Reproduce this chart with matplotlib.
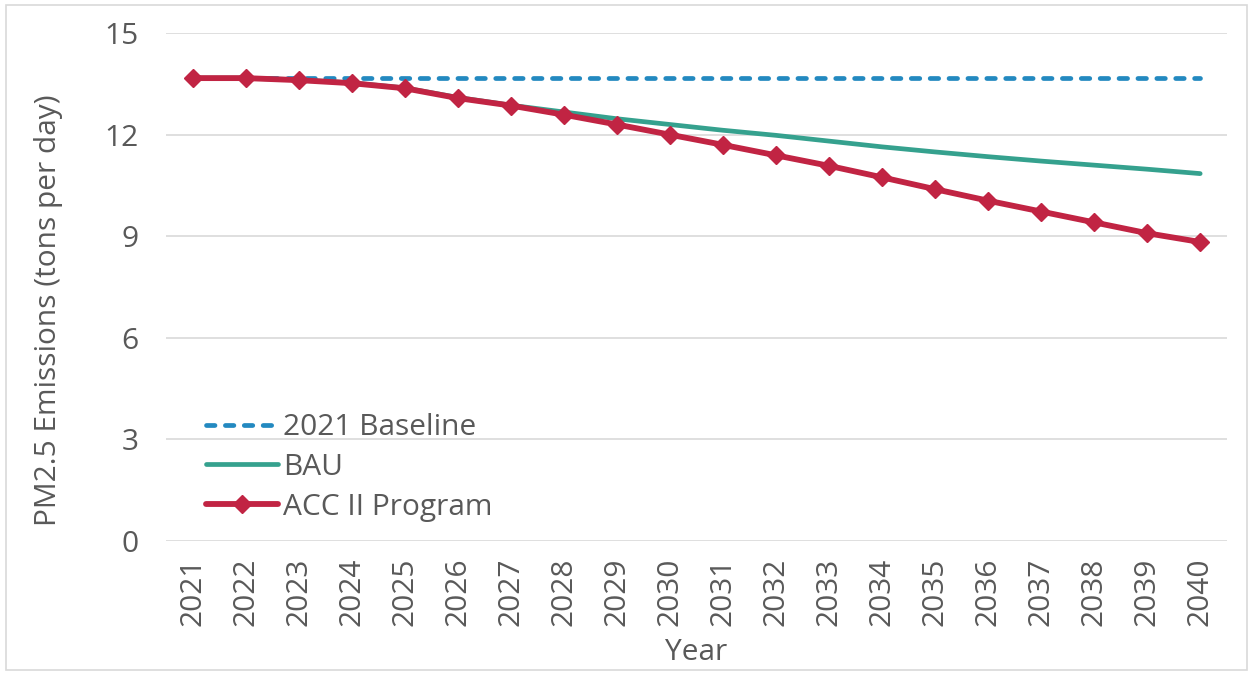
import matplotlib
matplotlib.use('Agg')
import matplotlib.pyplot as plt
from matplotlib.patches import Rectangle

# --- Data ---
years = [str(y) for y in range(2021, 2041)]
baseline = [13.67] * 20
bau = [13.67, 13.67, 13.62, 13.53, 13.38, 13.10, 12.87, 12.67, 12.47, 12.30,
       12.13, 11.98, 11.81, 11.64, 11.49, 11.35, 11.22, 11.10, 10.98, 10.85]
acc2 = [13.67, 13.67, 13.61, 13.52, 13.37, 13.08, 12.86, 12.59, 12.30, 12.00,
        11.70, 11.39, 11.08, 10.74, 10.39, 10.05, 9.73, 9.41, 9.09, 8.83]
y_ticks = [0, 3, 6, 9, 12, 15]

plt.rcParams['font.family'] = ['Open Sans', 'DejaVu Sans']
text_grey = '#595959'
fs = 21.5

fig = plt.figure(figsize=(12.53, 6.75), dpi=100)
ax = fig.add_axes([0.1325, 0.1985, 0.8465, 0.7525])

x = range(len(years))
ax.plot(x, baseline, color='#2389c0', linewidth=3.4, linestyle=(0, (1.8, 2.2)),
        dash_capstyle='round', label='2021 Baseline', zorder=3)
ax.plot(x, bau, color='#35a18e', linewidth=3.4, solid_capstyle='round',
        label='BAU', zorder=4)
ax.plot(x, acc2, color='#c12443', linewidth=4.2, marker='D', markersize=9,
        solid_capstyle='round', label='ACC II Program', zorder=5)

ax.set_xlim(-0.5, len(years) - 0.5)
ax.set_ylim(0, 15)
ax.set_yticks(y_ticks)
ax.set_xticks(list(x))
ax.set_xticklabels(years, rotation=90)
ax.grid(axis='y', color='#d9d9d9', linewidth=1.2)
ax.set_axisbelow(True)
for s in ax.spines.values():
    s.set_visible(False)
ax.tick_params(length=0, labelsize=fs, colors=text_grey, pad=20)
ax.tick_params(axis='x', pad=12)

ax.set_ylabel('PM2.5 Emissions (tons per day)', fontsize=fs, color=text_grey)
ax.yaxis.set_label_coords(-0.097, 0.455)
ax.set_xlabel('Year', fontsize=fs, color=text_grey)
ax.xaxis.set_label_coords(0.5, -0.19)

leg = ax.legend(loc='center left', bbox_to_anchor=(0.038, 0.145), frameon=False,
                fontsize=fs, labelcolor=text_grey, handlelength=2.4,
                handletextpad=0.18, labelspacing=0.36, borderpad=0, borderaxespad=0)

# light chart border
fig.patches.append(Rectangle((0.005, 0.007), 0.99, 0.986, transform=fig.transFigure,
                             fill=False, edgecolor='#d9d9d9', linewidth=1.2))

fig.savefig('out.png', dpi=100)
